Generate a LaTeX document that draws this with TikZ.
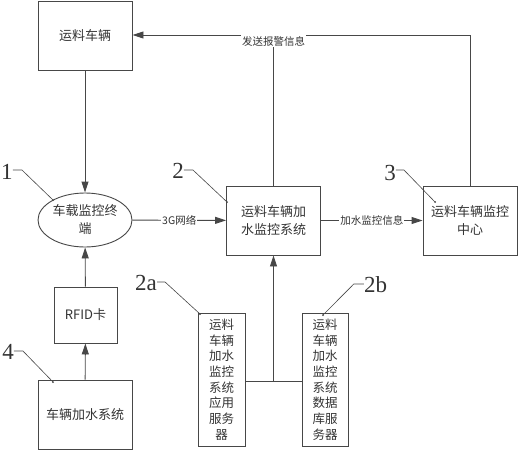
\documentclass[tikz,border=0pt]{standalone}
\usepackage{fontspec}
\setmainfont{Noto Sans CJK SC}
\newfontfamily\numfont{Liberation Serif}
\usetikzlibrary{arrows.meta,shapes.geometric}
\begin{document}
\begin{tikzpicture}[x=1pt,y=-1pt,
  line/.style={draw=black!72,line width=0.9pt},
  arr/.style={line,-{Triangle[length=11pt,width=7pt]}},
  box/.style={line,rectangle,inner sep=0pt,align=center,font=\fontsize{13}{18}\selectfont,text=black!80},
  tall/.style={box,font=\fontsize{12.5}{15.7}\selectfont},
  elab/.style={fill=white,inner sep=1pt,font=\fontsize{10.5}{12}\selectfont,text=black!80},
  num/.style={inner sep=0pt,font=\numfont\fontsize{23}{23}\selectfont,text=black!80},
  lead/.style={draw=black!72,line width=0.6pt},
  dotend/.style={fill=black!72,circle,inner sep=0pt,minimum size=2pt}]
\useasboundingbox (0,0) rectangle (518,450);
\node[box,minimum width=94pt,minimum height=69pt] (top) at (85,35.5) {运料车辆};
\node[line,ellipse,inner sep=0pt,minimum width=94pt,minimum height=54pt,align=center,font=\fontsize{13}{18}\selectfont,text=black!80] (ell) at (85,220) {车载监控终\\端};
\node[box,minimum width=94pt,minimum height=69pt] (sys) at (273.5,220.5) {运料车辆加\\水监控系统};
\node[box,minimum width=94pt,minimum height=69pt] (ctr) at (470,220.5) {运料车辆监控\\中心};
\node[box,minimum width=63pt,minimum height=56pt] (rfid) at (85.5,315) {RFID卡};
\node[box,minimum width=94pt,minimum height=69pt] (fill) at (85,414.5) {车辆加水系统};
\node[tall,minimum width=47pt,minimum height=133pt] (app) at (221.5,379.5) {运料\\车辆\\加水\\监控\\系统\\应用\\服务\\器};
\node[tall,minimum width=46pt,minimum height=133pt] (db) at (325,379.5) {运料\\车辆\\加水\\监控\\系统\\数据\\库服\\务器};
% connectors
\draw[arr] (top) -- (ell);
\draw[arr] (ell) -- node[elab] (lab3g) {3G网络} (sys);
\draw[arr] (sys) -- node[elab] (labw) {加水监控信息} (ctr);
\draw[arr] (rfid) -- (ell);
\draw[arr] (fill) -- (rfid);
\coordinate (j) at (273.5,381);
\draw[line] (j -| app.east) -- (j -| db.west);
\draw[arr] (j) -- (sys);
\node[elab,fill=none] (alarm) at (273.5,41) {发送报警信息};
\coordinate (c) at (470,35);
\draw[line] (sys.north) -- (alarm.south);
\draw[line] (ctr.north) -- (c) -- (c -| alarm.east);
\draw[arr] (c -| alarm.west) -- (c -| top.east);
% number labels
\node[num] (n1) at (7,172) {1};
\coordinate (e1) at (53,200);
\draw[lead] (n1.east |- 0,170) -- ++(9,0) -- (e1);
\node[dotend] at (e1) {};
\node[num] (n2) at (178,171) {2};
\coordinate (e2) at (227,202);
\draw[lead] (n2.east |- 0,170) -- ++(9,0) -- (e2);
\node[dotend] at (e2) {};
\node[num] (n3) at (390,173) {3};
\coordinate (e3) at (435,202);
\draw[lead] (n3.east |- 0,170) -- ++(8,0) -- (e3);
\node[dotend] at (e3) {};
\node[num] (n2a) at (146,283) {2a};
\coordinate (e2a) at (200,314);
\draw[lead] (n2a.east |- 0,282) -- ++(8,0) -- (e2a);
\node[dotend] at (e2a) {};
\node[num] (n2b) at (375.5,285) {2b};
\coordinate (e2b) at (323,315);
\draw[lead] (n2b.west |- 0,284) -- ++(-10,0) -- (e2b);
\node[dotend] at (e2b) {};
\node[num] (n4) at (8,352) {4};
\coordinate (e4) at (53,382);
\draw[lead] (n4.east |- 0,351) -- ++(9,0) -- (e4);
\node[dotend] at (e4) {};
\end{tikzpicture}
\end{document}
